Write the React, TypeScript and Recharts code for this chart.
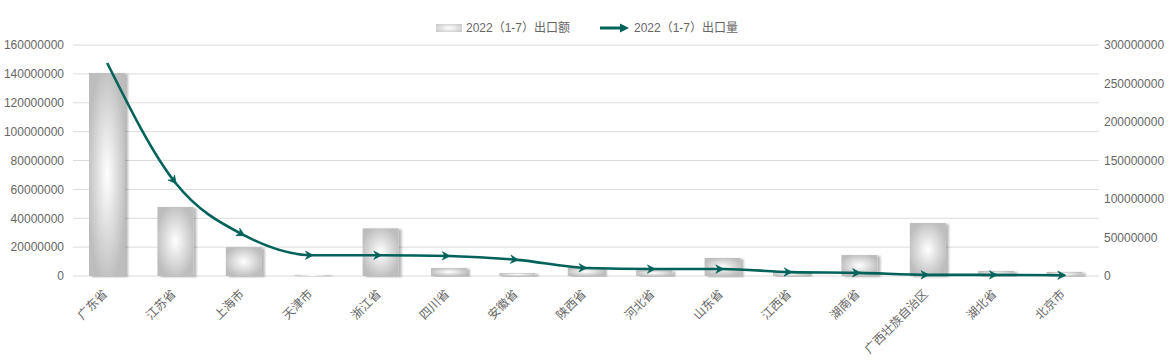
import React from "react";
import { ComposedChart, Bar, Line, XAxis, YAxis, CartesianGrid } from "recharts";

const provinces = ["广东省", "江苏省", "上海市", "天津市", "浙江省", "四川省", "安徽省", "陕西省", "河北省", "山东省", "江西省", "湖南省", "广西壮族自治区", "湖北省", "北京市"];
const exportValue = [140600000, 47800000, 20000000, 700000, 33000000, 5500000, 2000000, 6000000, 4000000, 12500000, 3000000, 14500000, 36700000, 3500000, 2800000];
const exportVolume = [276600000, 120800000, 53000000, 27000000, 27000000, 26000000, 21000000, 10400000, 9000000, 9000000, 5000000, 4000000, 1500000, 1500000, 1000000];
const leftTicks = [0, 20000000, 40000000, 60000000, 80000000, 100000000, 120000000, 140000000, 160000000];
const rightTicks = [0, 50000000, 100000000, 150000000, 200000000, 250000000, 300000000];
const seriesNames = ["2022（1-7）出口额", "2022（1-7）出口量"];

const data = provinces.map((p, i) => ({ name: p, value: exportValue[i], volume: exportVolume[i] }));

const FONT = '"Liberation Sans", Arial, "Noto Sans CJK SC", sans-serif';
const TEAL = "#00625a";
const TXT = "#666";

const BarShape = (props: any) => {
  const { x, y, width, height } = props;
  if (!height || height <= 0) return null;
  return <rect x={x} y={y} width={width} height={height} fill="url(#barGrad)" filter="url(#barShadow)" />;
};

const sign = (v: number) => (v < 0 ? -1 : v > 0 ? 1 : 0);

const ArrowDot = (props: any) => {
  const { cx, cy, index, points } = props;
  if (index === 0 || cx == null || cy == null) return <g key={"d" + index} />;
  let slope = 0;
  if (points && points.length > 1) {
    const p0 = points[index - 1];
    const p1 = points[index];
    const p2 = points[index + 1];
    if (p0 && p2) {
      const h0 = p1.x - p0.x;
      const h1 = p2.x - p1.x;
      const s0 = (p1.y - p0.y) / h0;
      const s1 = (p2.y - p1.y) / h1;
      const p = (s0 * h1 + s1 * h0) / (h0 + h1);
      slope = (sign(s0) + sign(s1)) * Math.min(Math.abs(s0), Math.abs(s1), 0.5 * Math.abs(p)) || 0;
    } else if (p0) {
      slope = (p1.y - p0.y) / (p1.x - p0.x);
    }
  }
  const ang = (Math.atan(slope) * 180) / Math.PI;
  return (
    <path
      key={"d" + index}
      d="M1,0 L-7,-4.2 L-4.5,0 L-7,4.2 Z"
      fill={TEAL}
      stroke={TEAL}
      strokeWidth={0.6}
      transform={`translate(${cx},${cy}) rotate(${ang})`}
    />
  );
};

const XTick = (props: any) => {
  const { x, y, payload } = props;
  const tx = x - 2;
  const ty = y + 8;
  return (
    <text
      x={tx}
      y={ty}
      transform={`rotate(-45, ${tx}, ${ty})`}
      textAnchor="end"
      dominantBaseline="central"
      fontSize={12}
      fill={TXT}
      fontFamily={FONT}
    >
      {payload.value}
    </text>
  );
};

export default function App() {
  return (
    <div style={{ position: "absolute", left: 0, top: 0, width: 1172, height: 363, background: "#fff", fontFamily: FONT }}>
      <div style={{ position: "absolute", left: 0, top: 19, width: 1172, height: 18, fontSize: 12, color: TXT }}>
        <div style={{ position: "absolute", left: 436, top: 5, width: 26, height: 8, background: "radial-gradient(ellipse at center, #ffffff 0%, #c2c2c2 100%)" }} />
        <div style={{ position: "absolute", left: 466, top: 1, lineHeight: "16px", whiteSpace: "nowrap" }}>{seriesNames[0]}</div>
        <svg style={{ position: "absolute", left: 600, top: 2 }} width={32} height={14}>
          <line x1={0} y1={7} x2={22} y2={7} stroke={TEAL} strokeWidth={3} />
          <path d="M20,2.5 L29,7 L20,11.5 Z" fill={TEAL} />
        </svg>
        <div style={{ position: "absolute", left: 634, top: 1, lineHeight: "16px", whiteSpace: "nowrap" }}>{seriesNames[1]}</div>
      </div>
      <ComposedChart width={1172} height={363} data={data} margin={{ top: 45, right: 0, bottom: 0, left: 0 }}>
        <defs>
          <radialGradient id="barGrad" cx="50%" cy="50%" r="55%">
            <stop offset="0%" stopColor="#ffffff" />
            <stop offset="100%" stopColor="#bdbdbd" />
          </radialGradient>
          <filter id="barShadow" x="-20%" y="-5%" width="150%" height="115%">
            <feDropShadow dx={3} dy={1} stdDeviation={1.3} floodColor="#000" floodOpacity={0.28} />
          </filter>
        </defs>
        <CartesianGrid vertical={false} stroke="#dcdcdc" yAxisId="left" />
        <XAxis dataKey="name" height={87} tick={<XTick />} tickLine={false} axisLine={false} interval={0} />
        <YAxis
          yAxisId="left"
          orientation="left"
          width={73}
          domain={[0, 160000000]}
          ticks={leftTicks}
          tickLine={false}
          axisLine={false}
          tickMargin={3}
          tick={{ fontSize: 12, fill: TXT, fontFamily: FONT }}
          interval={0}
        />
        <YAxis
          yAxisId="right"
          orientation="right"
          width={73}
          domain={[0, 300000000]}
          ticks={rightTicks}
          tickLine={false}
          axisLine={false}
          tickSize={3}
          tickMargin={2}
          tick={{ fontSize: 12, fill: TXT, fontFamily: FONT, textAnchor: "start" }}
          interval={0}
        />
        <Bar yAxisId="left" dataKey="value" name={seriesNames[0]} barSize={36} shape={<BarShape />} isAnimationActive={false} />
        <Line
          yAxisId="right"
          type="monotone"
          dataKey="volume"
          name={seriesNames[1]}
          stroke={TEAL}
          strokeWidth={2.6}
          dot={<ArrowDot />}
          activeDot={false}
          isAnimationActive={false}
        />
      </ComposedChart>
    </div>
  );
}
